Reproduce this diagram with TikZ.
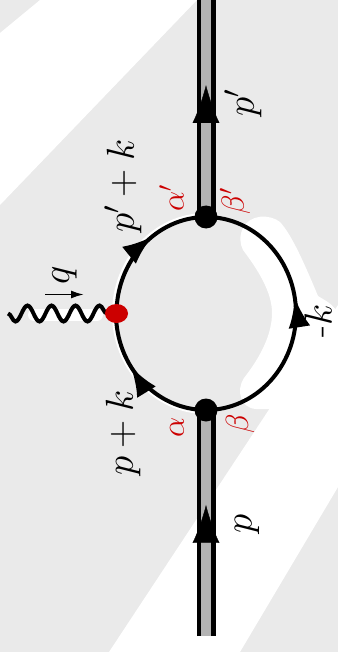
\documentclass[tikz,border=0pt]{standalone}
\usepackage{fix-cm}
\usetikzlibrary{arrows.meta, shapes.geometric, decorations.markings, decorations.pathmorphing}
\definecolor{bggray}{RGB}{234,234,234}
\definecolor{legfill}{RGB}{179,179,179}
\definecolor{idxred}{RGB}{204,0,0}

\begin{document}
\begin{tikzpicture}[x=1pt, y=-1pt, >={Latex[length=13pt, width=8pt]},
        leg/.style={draw=black, line width=4.5pt, double=legfill, double distance=10pt},
        prop/.style={line width=4pt},
        vtx/.style={circle, fill=black, inner sep=0pt, minimum size=23pt},
        qvtx/.style={ellipse, fill=idxred, inner sep=0pt, minimum width=23pt, minimum height=19pt},
        legarrow/.style={postaction={decorate}, decoration={markings, mark=at position #1 with {\arrow{Latex[length=38pt, width=27pt]}}}},
        proparrow/.style={postaction={decorate}, decoration={markings, mark=at position #1 with {\arrow{Latex[length=30pt, width=22pt]}}}},
        mom/.style={font=\fontsize{39}{42}\selectfont, rotate=90, inner sep=0pt},
        idx/.style={text=idxred, font=\fontsize{32}{34}\selectfont, rotate=90, inner sep=0pt}]
            \useasboundingbox (0,0) rectangle (338,652);
            % Background
            \fill[bggray] (0,0) rectangle (338,652);
            \fill[white] (40,0) -- (197,0) -- (0,205) -- (0,33) -- cycle;
            \fill[white] (338,305) -- (338,487) -- (240,652) -- (109,652) -- cycle;
            % White shading behind the lines
            \fill[white] (243,250) .. controls (262,275) and (272,295) .. (272,313)
                .. controls (272,333) and (262,355) .. (244,378)
                .. controls (236,390) and (240,408) .. (256,409) -- (272,409) -- (336,310)
                .. controls (330,302) and (324,300) .. (318,296)
                .. controls (305,265) and (292,235) .. (280,222)
                .. controls (270,214) and (250,214) .. (243,228)
                .. controls (239,236) and (240,244) .. (243,250) -- cycle;
            \draw[white, line width=12pt, line cap=round] (34,315) -- (97,315);
            \draw[white, line width=5pt] (206,411.5) arc[start angle=90, end angle=270, x radius=91.5, y radius=98];
            % Vertices
            \coordinate (in) at (206,410);
            \coordinate (out) at (206,217);
            \coordinate (q) at (116.5,313.5);
            \coordinate (pin) at (206,636);
            \coordinate (pout) at (206,-3);
            \coordinate (qend) at (8,313.5);
            % External legs
            \foreach \a/\b/\pos in {pin/in/0.58, out/pout/0.6} {
                    \draw[leg] (\a) -- (\b);
                    \path[legarrow=\pos] (\a) -- (\b);
                }
            % Loop
            \draw[prop, proparrow=0.62] (in) arc[start angle=90, end angle=180, x radius=90, y radius=96.5];
            \draw[prop, proparrow=0.6] (q) arc[start angle=180, end angle=270, x radius=90, y radius=96.5];
            \draw[prop, proparrow=0.555] (in) arc[start angle=90, end angle=-90, x radius=90, y radius=96.5];
            % Photon
            \draw[line width=4pt, decorate, decoration={snake, segment length=24pt, amplitude=-8pt}] (qend) -- (q);
            \node[vtx] (vin) at (in) {};
            \node[vtx] (vout) at (out) {};
            \node[qvtx] (vq) at (q) {};
            \coordinate (qa) at (45,294.5);
            \coordinate (qb) at (84,294.5);
            \draw[->, line width=1.8pt] (qa) -- (qb);
            % Labels
            \node[mom] (lq) at (64.5,275) {$q$};
            \node[mom] (lpkout) at (123,186) {$p'+k$};
            \node[mom] (lpkin) at (123,433) {$p+k$};
            \node[mom] (lpout) at (243,103) {$p'$};
            \node[mom] (lpin) at (247,524) {$p$};
            \node[mom] (lk) at (318,321) {-$k$};
            \node[idx] (lalout) at (171.5,198) {$\alpha'$};
            \node[idx] (lbeout) at (235,201) {$\beta'$};
            \node[idx] (lalin) at (177,427) {$\alpha$};
            \node[idx] (lbein) at (240,424) {$\beta$};
        \end{tikzpicture}
\end{document}
